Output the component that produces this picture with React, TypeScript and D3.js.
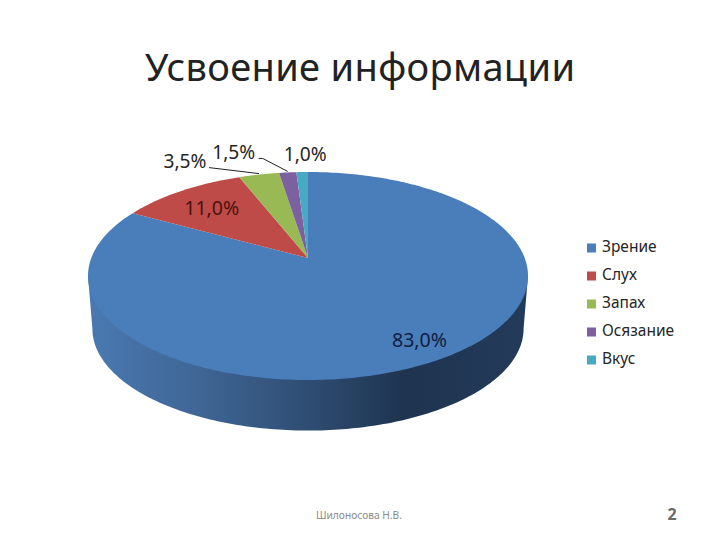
import * as d3 from 'd3';

const categories = ['Зрение', 'Слух', 'Запах', 'Осязание', 'Вкус'];
const values = [83, 11, 3.5, 1.5, 1];
const valueLabels = ['83,0%', '11,0%', '3,5%', '1,5%', '1,0%'];
const colors = ['#4a7ebb', '#be4b48', '#98b954', '#7d60a0', '#46aac5'];

const font = '"Noto Sans", sans-serif';

// pie is tilted with perspective, so the apex is above the ellipse centre
const apex = { x: 308, y: 258 };
const tilt = -0.173;
const scaleX = 216.7;
const scaleY = 100.9;
const depth = 53;

function project(angle: number, r = 1, k = 1) {
  const u = Math.sin(angle) * r;
  const v = -Math.cos(angle) * r;
  const w = 1 + tilt * v;
  return { x: apex.x + (k * scaleX * u) / w, y: apex.y + (k * scaleY * v) / w };
}

const line = d3
  .line<{ x: number; y: number }>()
  .x((p) => p.x)
  .y((p) => p.y);

function rimPoints(a0: number, a1: number, k = 1) {
  const n = Math.max(4, Math.ceil((a1 - a0) * 60));
  return d3.range(n + 1).map((i) => project(a0 + ((a1 - a0) * i) / n, 1, k));
}

const slices = d3.pie<number>().sort(null)(values);

// label placement: radius on the slice + nudge in pixels
const labelPlacement = [
  { r: 0.83, dx: 7, dy: 2 },
  { r: 0.62, dx: -14, dy: -5 },
  { r: 1, dx: -74, dy: -12 },
  { r: 1, dx: -54, dy: -19 },
  { r: 1, dx: 3, dy: -16 },
];
// small slices get a leader line from the rim to the label, the second one with an elbow
const leaderEnds = [
  null,
  null,
  [{ dx: -50, dy: -7 }],
  [{ dx: -25, dy: -14 }, { dx: -29, dy: -14 }],
  null,
];

const legendY = d3.scalePoint<string>().domain(categories).range([248, 360]);

// lowest visible part of the side wall, between the widest points of the rim
function wallPath() {
  const widest = d3.range(0, 2 * Math.PI, 0.01).map((a) => ({ a, p: project(a) }));
  const right = widest.reduce((m, d) => (d.p.x > m.p.x ? d : m));
  const left = widest.reduce((m, d) => (d.p.x < m.p.x ? d : m));
  const bottom = rimPoints(right.a, left.a, 0.98).map((p) => ({ x: p.x, y: p.y + depth }));
  return line([right.p, ...bottom, left.p]) + 'Z';
}

export default function App() {
  return (
    <svg
      width={720}
      height={540}
      viewBox="0 0 720 540"
      style={{ position: 'absolute', left: 0, top: 0, background: '#fff' }}
    >
      <defs>
        <linearGradient id="wall" gradientUnits="userSpaceOnUse" x1={88} x2={528} y1={0} y2={0}>
          <stop offset="0" stopColor="#4a79b2" />
          <stop offset="0.25" stopColor="#3f6695" />
          <stop offset="0.5" stopColor="#2f4d73" />
          <stop offset="0.72" stopColor="#1e3450" />
          <stop offset="1" stopColor="#233b5a" />
        </linearGradient>
      </defs>

      <text x={360} y={81} textAnchor="middle" fontFamily={font} fontSize={38} fill="#222" textLength={430}>
        Усвоение информации
      </text>

      <path d={wallPath()} fill="url(#wall)" />
      {slices.map((s, i) => (
        <path
          key={categories[i]}
          d={line([apex, ...rimPoints(s.startAngle, s.endAngle)]) + 'Z'}
          fill={colors[i]}
        />
      ))}

      {slices.map((s, i) => {
        const ends = leaderEnds[i];
        if (!ends) return null;
        const p = project((s.startAngle + s.endAngle) / 2);
        const pts = [{ x: p.x, y: p.y - 1 }, ...ends.map((e) => ({ x: p.x + e.dx, y: p.y + e.dy }))];
        return <path key={categories[i]} d={line(pts)!} fill="none" stroke="#222" strokeWidth={1} />;
      })}

      {slices.map((s, i) => {
        const mid = (s.startAngle + s.endAngle) / 2;
        const place = labelPlacement[i];
        const p = project(mid, place.r);
        const fill = i === 0 ? '#0e2041' : i === 1 ? '#4a1210' : '#262626';
        return (
          <text
            key={categories[i]}
            x={p.x + place.dx}
            y={p.y + place.dy}
            textAnchor="middle"
            dominantBaseline="middle"
            fontFamily={font}
            fontSize={19.5}
            fill={fill}
            textLength={i < 2 ? 55 : 43}
            lengthAdjust="spacingAndGlyphs"
          >
            {valueLabels[i]}
          </text>
        );
      })}

      {categories.map((c, i) => (
        <g key={c} transform={`translate(587,${legendY(c)})`}>
          <rect x={0} y={-4.5} width={9} height={9} fill={colors[i]} />
          <text x={15} y={0} dominantBaseline="middle" fontFamily={font} fontSize={15.5} fill="#262626">
            {c}
          </text>
        </g>
      ))}

      <text x={316} y={519} fontFamily={font} fontSize={10.2} fill="#8a8a8a">
        Шилоносова Н.В.
      </text>
      <text x={672} y={520} textAnchor="middle" fontFamily={font} fontSize={16} fontWeight={700} fill="#6a6a6a">
        2
      </text>
    </svg>
  );
}
